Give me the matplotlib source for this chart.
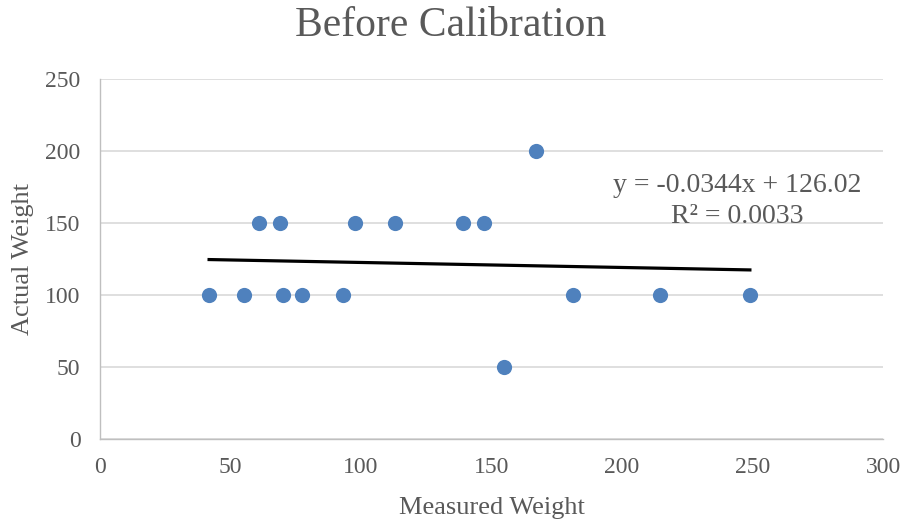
import numpy as np
import matplotlib
matplotlib.use("Agg")
import matplotlib.pyplot as plt

measured = [41.8, 55.2, 60.9, 69.0, 70.1, 77.4, 93.1, 97.7, 113.0, 139.1, 147.1, 154.8, 167.0, 181.2, 214.6, 249.0]
actual = [100, 100, 150, 150, 100, 100, 100, 150, 150, 150, 150, 50, 200, 100, 100, 100]
x_ticks = [0, 50, 100, 150, 200, 250, 300]
y_ticks = [0, 50, 100, 150, 200, 250]
title = "Before Calibration"
eq_line1 = "y = -0.0344x + 126.02"
eq_line2 = "R² = 0.0033"

plt.rcParams['font.family'] = ['Liberation Serif', 'DejaVu Serif']
gray = '#595959'

W, H = 906, 522
fig = plt.figure(figsize=(W / 100, H / 100), dpi=100)
ax = fig.add_axes([100 / W, 1 - 439 / H, 783 / W, 360 / H])

ax.set_xlim(0, 300)
ax.set_ylim(0, 250)
ax.set_xticks(x_ticks)
ax.set_yticks(y_ticks)
ax.grid(axis='y', color='#d9d9d9', linewidth=1.2)
ax.set_axisbelow(True)
for s in ['top', 'right']:
    ax.spines[s].set_visible(False)
for s in ['left', 'bottom']:
    ax.spines[s].set_color('#bfbfbf')
    ax.spines[s].set_linewidth(1.0)
ax.tick_params(axis='both', length=0, labelsize=17, labelcolor=gray)
ax.tick_params(axis='y', pad=14)
ax.tick_params(axis='x', pad=13)

ax.scatter(measured, actual, s=120, color='#4F81BD', zorder=3, linewidths=0)

mx = np.array(measured)
slope, intercept = np.polyfit(mx, np.array(actual), 1)
xs = np.array([mx.min(), mx.max()])
ax.plot(xs, slope * xs + intercept, color='black', linewidth=2.3, zorder=4)

ax.text(244, 171.5, eq_line1, ha='center', va='baseline', fontsize=20, color=gray)
ax.text(244, 150, eq_line2, ha='center', va='baseline', fontsize=20, color=gray)

fig.text(491.5 / W, 1 - 514 / H, "Measured Weight", ha='center', va='baseline',
         fontsize=19, color=gray)
fig.text(23 / W, 1 - 259 / H, "Actual Weight", ha='center', va='center',
         rotation=90, fontsize=19, color=gray)
fig.text(451 / W, 1 - 36 / H, title, ha='center', va='baseline', fontsize=30, color=gray)

fig.savefig("out.png", dpi=100)
